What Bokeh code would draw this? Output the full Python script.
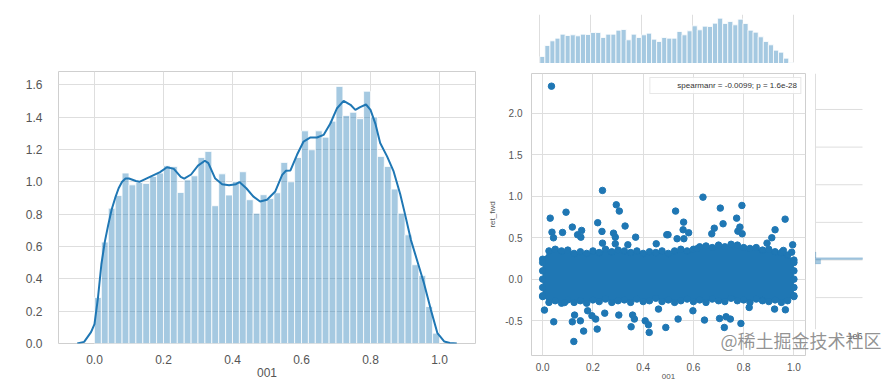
import numpy as np
from bokeh.plotting import figure
from bokeh.models import (Range1d, FixedTicker, PrintfTickFormatter, Legend,
                          LegendItem, Label)
from bokeh.layouts import row, column
from bokeh.embed import file_html
from bokeh.resources import INLINE

# ---------------- data ----------------
# left: density histogram of "001" (50 bins on [0, 1]) + KDE
hist_density = [0.285, 0.627, 0.837, 0.915, 1.054, 0.981, 0.996, 0.99, 1.033, 1.054,
                1.099, 1.095, 0.934, 1.012, 1.037, 1.15, 1.188, 0.852, 1.049, 0.918,
                1.002, 1.062, 0.889, 0.806, 0.92, 0.896, 0.932, 1.12, 1.0, 1.15,
                1.315, 1.198, 1.315, 1.276, 1.375, 1.59, 1.41, 1.43, 1.39, 1.56,
                1.40, 1.157, 1.095, 0.955, 0.806, 0.672, 0.487, 0.42, 0.229, 0.064]
bin_edges = np.linspace(0.0, 1.0, len(hist_density) + 1)

kde_x = [-0.05, -0.03, -0.01, 0.0, 0.01, 0.02, 0.03, 0.04, 0.05, 0.06, 0.07, 0.08,
         0.09, 0.10, 0.12, 0.13, 0.15, 0.17, 0.19, 0.21, 0.23, 0.25, 0.26, 0.28,
         0.30, 0.32, 0.33, 0.35, 0.37, 0.39, 0.41, 0.42, 0.44, 0.46, 0.48, 0.50,
         0.524, 0.544, 0.555, 0.568, 0.587, 0.606, 0.626, 0.645, 0.664, 0.684,
         0.703, 0.722, 0.742, 0.756, 0.77, 0.787, 0.80, 0.814, 0.828, 0.848,
         0.867, 0.886, 0.90, 0.917, 0.936, 0.955, 0.975, 0.994, 1.014, 1.03, 1.05]
kde_y = [0.0, 0.01, 0.07, 0.12, 0.28, 0.49, 0.63, 0.735, 0.83, 0.90, 0.96, 1.0,
         1.02, 1.02, 1.005, 1.0, 1.02, 1.04, 1.06, 1.09, 1.08, 1.03, 1.02, 1.045,
         1.10, 1.13, 1.115, 1.02, 0.985, 0.978, 0.985, 0.998, 0.96, 0.91, 0.878, 0.889,
         0.94, 1.043, 1.068, 1.07, 1.167, 1.249, 1.274, 1.274, 1.29, 1.362,
         1.455, 1.50, 1.476, 1.445, 1.462, 1.478, 1.445, 1.36, 1.24, 1.157,
         1.064, 0.925, 0.80, 0.641, 0.507, 0.373, 0.208, 0.064, 0.012, 0.003, 0.0]

hist_xticks = [0.0, 0.2, 0.4, 0.6, 0.8, 1.0]
hist_yticks = [0.0, 0.2, 0.4, 0.6, 0.8, 1.0, 1.2, 1.4, 1.6]

# right: joint plot "001" vs "ret_fwd"
top_counts = [21, 54, 68, 76, 88, 84, 86, 83, 88, 87, 93, 93, 78, 88, 88, 100, 102,
              71, 88, 78, 86, 91, 73, 66, 78, 76, 76, 96, 86, 98, 113, 101, 112, 111,
              121, 136, 120, 126, 116, 133, 120, 100, 94, 80, 66, 56, 40, 34, 16, 3]

right_bin_lo = [0.03, 0.008, -0.052]
right_bin_hi = [0.105, 0.03, 0.008]
right_counts = [0.012e6, 1.2e6, 0.13e6]
right_count_max = 1.2e6

# dense core of the scatter: boundary points (upper / lower) along "001"
blob_x = [0.0, 0.025, 0.05, 0.075, 0.1, 0.125, 0.15, 0.175, 0.2, 0.225, 0.25,
          0.275, 0.3, 0.325, 0.35, 0.375, 0.4, 0.425, 0.45, 0.475, 0.5, 0.525,
          0.55, 0.575, 0.6, 0.625, 0.65, 0.675, 0.7, 0.725, 0.75, 0.775, 0.8,
          0.825, 0.85, 0.875, 0.9, 0.925, 0.95, 0.975, 1.0]
blob_hi = [0.24, 0.34, 0.36, 0.34, 0.35, 0.31, 0.33, 0.31, 0.34, 0.32, 0.36, 0.33,
           0.35, 0.34, 0.32, 0.34, 0.31, 0.33, 0.32, 0.34, 0.31, 0.34, 0.36, 0.34,
           0.36, 0.39, 0.40, 0.38, 0.41, 0.39, 0.42, 0.41, 0.38, 0.37, 0.38, 0.35,
           0.36, 0.33, 0.32, 0.29, 0.23]
blob_lo = [-0.21, -0.28, -0.26, -0.29, -0.25, -0.28, -0.26, -0.29, -0.25, -0.27,
           -0.24, -0.28, -0.26, -0.25, -0.28, -0.24, -0.27, -0.26, -0.23, -0.27,
           -0.25, -0.28, -0.26, -0.24, -0.27, -0.25, -0.28, -0.24, -0.26, -0.27,
           -0.23, -0.26, -0.25, -0.28, -0.24, -0.26, -0.27, -0.25, -0.28, -0.26, -0.21]
edge_left_x = [0.0, 0.0, 0.0, 0.0, 0.0]
edge_right_x = [1.0, 1.0, 1.0, 1.0, 1.0]
edge_y = [-0.2, -0.1, 0.0, 0.1, 0.2]

# isolated points
outlier_x = [0.035, 0.238, 0.030, 0.093, 0.293, 0.305, 0.219, 0.328, 0.118, 0.155,
             0.139, 0.152, 0.037, 0.043, 0.079, 0.236, 0.282, 0.289, 0.370, 0.494,
             0.238, 0.452, 0.339, 0.289,
             0.638, 0.529, 0.707, 0.793, 0.965, 0.772, 0.718, 0.561, 0.683, 0.559,
             0.581, 0.785, 0.777, 0.794, 0.925, 0.912, 0.893, 0.995, 0.673, 0.562,
             0.535, 0.499, 0.614, 0.958, 0.991,
             0.124, 0.044, 0.163, 0.217, 0.118, 0.150, 0.127, 0.196, 0.211, 0.352,
             0.365, 0.358, 0.303, 0.408, 0.424, 0.421, 0.490, 0.539, 0.644, 0.704,
             0.723, 0.747, 0.789, 0.730, 0.007, 0.247, 0.087, 0.179, 0.598, 0.923,
             0.966, 0.461, 0.822]
outlier_y = [2.325, 1.069, 0.735, 0.807, 0.896, 0.82, 0.68, 0.64, 0.627, 0.587,
             0.535, 0.506, 0.566, 0.498, 0.563, 0.575, 0.554, 0.506, 0.506, 0.535,
             0.434, 0.426, 0.414, 0.426,
             0.988, 0.82, 0.856, 0.888, 0.723, 0.735, 0.667, 0.687, 0.614, 0.595,
             0.559, 0.627, 0.578, 0.547, 0.595, 0.499, 0.434, 0.414, 0.547, 0.487,
             0.487, 0.535, 0.366, 0.346, 0.325,
             -0.751, -0.514, -0.626, -0.602, -0.514, -0.502, -0.433, -0.441, -0.481,
             -0.574, -0.481, -0.433, -0.433, -0.502, -0.642, -0.55, -0.582, -0.481,
             -0.493, -0.474, -0.582, -0.481, -0.534, -0.453, -0.373, -0.41, -0.281,
             -0.381, -0.381, -0.361, -0.369, -0.361, -0.341]

joint_xticks = [0.0, 0.2, 0.4, 0.6, 0.8, 1.0]
joint_yticks = [-0.5, 0.0, 0.5, 1.0, 1.5, 2.0]
legend_text = "spearmanr = -0.0099; p = 1.6e-28"
offset_text = "1e6"
watermark = "@稀土掘金技术社区"

# ---------------- style ----------------
FONT = "Liberation Sans"
BLUE = "#1f77b4"
GRID = "#dedede"
SPINE = "#cfcfcf"
TXT = "#555555"


def style_axes(p, size):
    for ax in (p.xaxis, p.yaxis):
        ax.axis_line_color = None
        ax.major_tick_line_color = None
        ax.minor_tick_line_color = None
        ax.major_label_text_font = FONT
        ax.major_label_text_font_size = size
        ax.major_label_text_color = TXT
        ax.axis_label_text_font = FONT
        ax.axis_label_text_font_style = "normal"
        ax.axis_label_text_color = TXT
        ax.formatter = PrintfTickFormatter(format="%.1f")
    p.grid.grid_line_color = GRID
    p.grid.grid_line_width = 1
    p.outline_line_color = SPINE
    p.outline_line_width = 1


# ---------------- left: distplot ----------------
p1 = figure(width=485, height=384, x_range=Range1d(-0.1043, 1.1043),
            y_range=Range1d(0, 1.682), output_backend="svg", toolbar_location=None,
            min_border_left=58, min_border_right=10, min_border_top=71,
            min_border_bottom=41)
p1.quad(left=bin_edges[:-1], right=bin_edges[1:], bottom=0, top=hist_density,
        fill_color=BLUE, fill_alpha=0.4, line_color="white", line_width=0.8)
p1.line(kde_x, kde_y, line_color=BLUE, line_width=2)
style_axes(p1, "12px")
p1.xaxis.ticker = FixedTicker(ticks=hist_xticks)
p1.yaxis.ticker = FixedTicker(ticks=hist_yticks)
p1.xaxis.major_label_standoff = 5
p1.yaxis.major_label_standoff = 10
p1.xaxis.axis_label = "001"
p1.xaxis.axis_label_text_font_size = "12px"
p1.xaxis.axis_label_standoff = 1

# ---------------- right: joint plot ----------------
jx = Range1d(-0.0445, 1.0461)
jy = Range1d(-0.920, 2.478)

p2 = figure(width=321, height=321, x_range=jx, y_range=jy, output_backend="svg",
            toolbar_location=None, min_border_left=43, min_border_right=1,
            min_border_top=10, min_border_bottom=29)
style_axes(p2, "10px")
p2.xaxis.ticker = FixedTicker(ticks=joint_xticks)
p2.yaxis.ticker = FixedTicker(ticks=joint_yticks)
p2.xaxis.major_label_standoff = 1
p2.yaxis.major_label_standoff = 3
p2.xaxis.axis_label = "001"
p2.yaxis.axis_label = "ret_fwd"
p2.xaxis.axis_label_text_font_size = "8px"
p2.yaxis.axis_label_text_font_size = "8px"
p2.xaxis.axis_label_standoff = 0
p2.yaxis.axis_label_standoff = 5

p2.varea(x=blob_x, y1=blob_lo, y2=blob_hi, fill_color=BLUE)
for xs, ys in ((blob_x, blob_hi), (blob_x, blob_lo),
               (edge_left_x, edge_y), (edge_right_x, edge_y),
               (outlier_x, outlier_y)):
    p2.scatter(xs, ys, size=6.5, fill_color=BLUE, line_color=BLUE)

r_leg = p2.scatter(x=[], y=[], fill_alpha=0, line_alpha=0)
legend = Legend(items=[LegendItem(label=legend_text, renderers=[r_leg])],
                location="top_right", margin=4, padding=3, spacing=0,
                glyph_width=20, glyph_height=9, label_height=9, label_standoff=4,
                label_text_font=FONT, label_text_font_size="8px",
                label_text_color="#333333", border_line_color=SPINE,
                border_line_width=1, background_fill_color="white",
                background_fill_alpha=0.85)
p2.add_layout(legend)

# top marginal
p_top = figure(width=321, height=63, x_range=jx, y_range=Range1d(0, 147),
               output_backend="svg", toolbar_location=None, min_border_left=43,
               min_border_right=1, min_border_top=14, min_border_bottom=0)
p_top.quad(left=bin_edges[:-1], right=bin_edges[1:], bottom=0, top=top_counts,
           fill_color=BLUE, fill_alpha=0.4, line_color="white", line_width=0.8)
p_top.xaxis.visible = False
p_top.yaxis.visible = False
p_top.xgrid.ticker = FixedTicker(ticks=joint_xticks)
p_top.ygrid.ticker = FixedTicker(ticks=[0])
p_top.grid.grid_line_color = GRID
p_top.outline_line_color = None

# right marginal: a transparent overlay whose count axis maps 0..1.2e6 onto the
# narrow strip right of the joint plot, with the same y scale as the joint plot
p_r = figure(width=172, height=321, x_range=Range1d(-2.579e6, 1.8128e6),
             y_range=Range1d(-1.269, 2.478), output_backend="svg",
             toolbar_location=None, min_border_left=0, min_border_right=0,
             min_border_top=10, min_border_bottom=0, margin=(0, 0, 0, -92))
p_r.background_fill_alpha = 0
p_r.border_fill_alpha = 0
p_r.xaxis.visible = False
p_r.yaxis.visible = False
p_r.grid.visible = False
p_r.outline_line_color = None
p_r.segment(x0=[0] * len(joint_yticks), x1=[right_count_max] * len(joint_yticks),
            y0=joint_yticks, y1=joint_yticks, line_color=GRID, line_width=1)
p_r.segment(x0=[0], x1=[0], y0=[jy.start], y1=[jy.end], line_color=GRID,
            line_width=1)
p_r.hbar(y=[(a + b) / 2 for a, b in zip(right_bin_lo, right_bin_hi)],
         height=[b - a for a, b in zip(right_bin_lo, right_bin_hi)],
         left=0, right=right_counts, fill_color=BLUE, fill_alpha=0.4,
         line_color=BLUE, line_alpha=0.3, line_width=0.5)
p_r.add_layout(Label(x=right_count_max, y=-1.004, text=offset_text,
                     text_align="right", text_baseline="middle", text_font=FONT,
                     text_font_size="9px", text_color=TXT))
p_r.add_layout(Label(x=-2.4255e6, y=-1.064, text=watermark, text_align="left",
                     text_baseline="middle", text_font="Noto Sans CJK SC",
                     text_font_size="18px", text_color="#808080", text_alpha=0.85))

layout = row(p1, column(p_top, row(p2, p_r)))

open("out.html", "w").write(file_html(layout, INLINE))
